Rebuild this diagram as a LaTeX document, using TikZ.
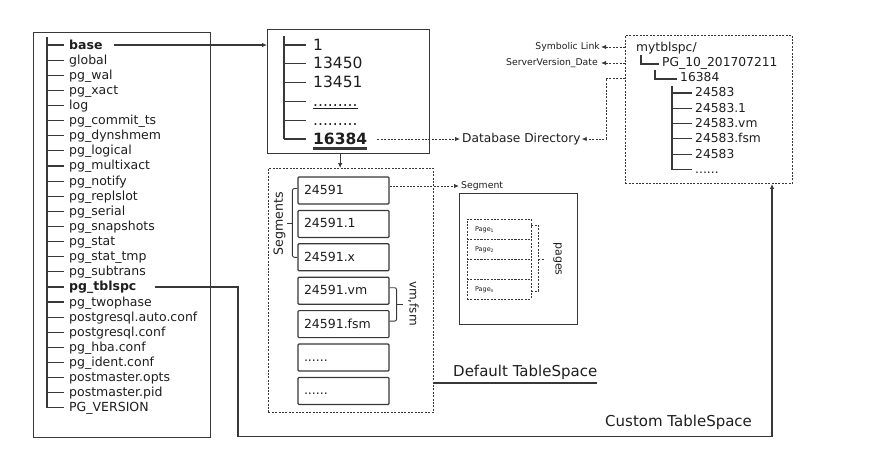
\documentclass[tikz,border=0pt]{standalone}
\usepackage{fontspec}
\setmainfont{DejaVu Sans}
\usetikzlibrary{arrows.meta,calc}
\definecolor{ink}{HTML}{1E1E1E}
\definecolor{lin}{HTML}{383838}
\newcommand{\dotsnine}{.........}
\newcommand{\dotssix}{......}
\begin{document}
\begin{tikzpicture}[x=1pt,y=-1pt,
  every node/.style={inner sep=0pt, text=ink},
  ln/.style={draw=lin, line width=1.15pt},
  dln/.style={draw=lin, line width=0.9pt, dash pattern=on 2pt off 1.4pt},
  tip/.style={-{Latex[length=5pt,width=4.5pt]}},
  lst/.style={anchor=west, font=\fontsize{12.5}{14}\selectfont, text height=9.2pt, text depth=1.2pt},
  mt/.style={anchor=west, font=\fontsize{15.5}{17}\selectfont, text height=11.5pt, text depth=1.5pt},
  rt/.style={anchor=west, font=\fontsize{12.3}{14}\selectfont, text height=9.1pt, text depth=1.2pt},
  small/.style={font=\fontsize{9.3}{11}\selectfont},
  fbox/.style={draw=lin, line width=1.2pt, rounded corners=1pt, minimum height=27pt,
    text width=79pt, inner xsep=6pt, align=left, font=\fontsize{12.5}{14}\selectfont,
    text height=9pt, text depth=1pt},
  pgbox/.style={dln, minimum height=20pt, text width=48pt, inner xsep=8pt, align=left,
    font=\fontsize{6.5}{8}\selectfont, text height=5pt, text depth=1pt},
  frame/.style={ln, anchor=north west},
  dframe/.style={dln, anchor=north west},
  big/.style={anchor=west, font=\fontsize{15}{17}\selectfont}
]
\useasboundingbox (0,0) rectangle (885,450);

% ---------- left box ----------
\node[frame, minimum width=177pt, minimum height=405pt] (leftbox) at (33,32) {};
\foreach \t [count=\i from 0] in {\textbf{base},global,pg\_wal,pg\_xact,log,pg\_commit\_ts,
  pg\_dynshmem,pg\_logical,pg\_multixact,pg\_notify,pg\_replslot,pg\_serial,pg\_snapshots,
  pg\_stat,pg\_stat\_tmp,pg\_subtrans,\textbf{pg\_tblspc},pg\_twophase,postgresql.auto.conf,
  postgresql.conf,pg\_hba.conf,pg\_ident.conf,postmaster.opts,postmaster.pid,PG\_VERSION}
{
  \pgfmathsetmacro{\yy}{45+15.12*\i}
  \node[lst] (l\i) at (69,\yy) {\t};
  \draw[ln] ($(l\i.west)+(-22,0)$) -- ($(l\i.west)+(-5,0)$);
}
\draw[ln] ($(l0.west)+(-22,-8)$) -- ($(l24.west)+(-22,0)$);

% ---------- middle box ----------
\node[frame, minimum width=162pt, minimum height=124pt] (mid) at (267,29) {};
\foreach \t [count=\i from 0] in {1,13450,13451,\underline{\dotsnine},\dotsnine,\textbf{16384}}
{
  \pgfmathsetmacro{\yy}{45+18.8*\i}
  \node[mt] (m\i) at (313,\yy) {\t};
  \draw[ln] ($(m\i.west)+(-29,0)$) -- ($(m\i.west)+(-7,0)$);
}
\draw[ln] ($(m0.west)+(-29,-9)$) -- ($(m5.west)+(-29,0)$);
\draw[draw=lin, line width=2.6pt] ($(m5.south west)+(0,2.5)$) -- ($(m5.south east)+(0,2.5)$);

\draw[ln, tip] ([xshift=11pt]l0.east) -- (mid.west |- l0.east);

% ---------- database directory ----------
\node[anchor=west, font=\fontsize{12.2}{14}\selectfont] (db) at (462,139) {Database Directory};
\draw[dln, tip] ([xshift=10pt]m5.east) -- ([xshift=-2pt]db.west);

% ---------- right dashed box ----------
\node[dframe, minimum width=167pt, minimum height=148pt] (rbox) at (625,35) {};
\node[rt] (r0) at (636,48) {mytblspc/};
\node[rt] (r1) at (662,63) {PG\_10\_201707211};
\node[rt] (r2) at (680,78) {16384};
\foreach \t [count=\i from 3] in {24583,24583.1,24583.vm,24583.fsm,24583,\dotssix}
{
  \pgfmathsetmacro{\yy}{93+15.3*(\i-3)}
  \node[rt] (r\i) at (695,\yy) {\t};
  \draw[ln] ($(r\i.west)+(-23,0)$) -- ($(r\i.west)+(-3,0)$);
}
\draw[ln] ($(r3.west)+(-23,-7)$) -- ($(r8.west)+(-23,0)$);
\draw[ln] ($(r0.south west)+(5,2)$) |- ($(r1.west)+(-3,1)$);
\draw[ln] ($(r1.south west)+(-7,2)$) |- ($(r2.west)+(-3,1)$);

\node[small, anchor=east] (sym) at (600,47) {Symbolic Link};
\node[small, anchor=east] (svd) at (598,63) {ServerVersion\_Date};
\draw[dln, tip] (rbox.west |- sym.east) -- ([xshift=1pt]sym.east);
\draw[dln, tip] (rbox.west |- svd.east) -- ([xshift=3pt]svd.east);
\coordinate (k) at (606,78);
\draw[dln, tip] (rbox.west |- k) -- (k) |- ([xshift=1pt]db.east);

% ---------- default tablespace box ----------
\node[dframe, minimum width=165pt, minimum height=244pt] (dbox) at (268,168) {};
\draw[ln, tip] (mid.south -| m5.south) -- (dbox.north -| m5.south);
\foreach \t [count=\i from 0] in {24591,24591.1,24591.x,24591.vm,24591.fsm,\dotssix,\dotssix}
{
  \pgfmathsetmacro{\yy}{190.5+33.4*\i}
  \node[fbox] (f\i) at (343.5,\yy) {\t};
}
% Segments brace
\coordinate (sb) at ($(f0.west)!0.5!(f2.west)$);
\draw[ln, line width=0.9pt, rounded corners=2pt] ($(f0.west)+(0,-2)$) -- ++(-5,0) -- ($(f2.west)+(-5,0)$) -- (f2.west);
\draw[ln, line width=0.9pt] ($(sb)+(-5,0)$) -- ++(-5,0);
\node[rotate=90, font=\fontsize{12.6}{14}\selectfont] (segs) at ($(sb)+(-18,0)$) {Segments};
% vm,fsm brace
\coordinate (vb) at ($(f3.east)!0.5!(f4.east)$);
\draw[ln, line width=0.9pt, rounded corners=2pt] ($(f3.east)+(0,-3)$) -- ++(7,0) -- ($(f4.east)+(7,-3)$) -- ($(f4.east)+(0,-3)$);
\draw[ln, line width=0.9pt] ($(vb)+(7,-3)$) -- ++(6,0);
\node[rotate=-90, font=\fontsize{12}{14}\selectfont] (vmf) at ($(vb)+(24,-4)$) {vm,fsm};

% ---------- segment box ----------
\node[small, anchor=west] (seglab) at (461,186) {Segment};
\draw[dln, tip] (f0.east |- seglab.west) -- ([xshift=-2pt]seglab.west);
\node[frame, minimum width=118pt, minimum height=131pt] (sbox) at (459,193) {};
\foreach \t [count=\i from 0] in {Page\textsubscript{1},Page\textsubscript{2},{},Page\textsubscript{n}}
{
  \pgfmathsetmacro{\yy}{229+20*\i}
  \node[pgbox] (p\i) at (499,\yy) {\t};
}
\draw[dln] ($(p0.east)+(0,-4)$) -- ++(7,0) -- ($(p3.east)+(7,2)$) -- ($(p3.east)+(0,2)$);
\coordinate (pb) at ($(p1.south east)!0.5!(p2.north east)$);
\draw[dln] ($(pb)+(7,0)$) -- ++(6,0);
\node[rotate=-90, font=\fontsize{11}{13}\selectfont] (pgs) at ($(pb)+(26,0)$) {pages};

% ---------- tablespace labels ----------
\node[big] (dts) at (453,372) {Default TableSpace};
\coordinate (u) at ($(dts.south east)+(0,3.5)$);
\draw[ln] (dbox.east |- u) -- (u);
\node[big] (cts) at (605,422) {Custom TableSpace};

\coordinate (c1) at (238,436.5);
\coordinate (c2) at (772,436.5);
\draw[ln, line width=1.4pt, tip] ([xshift=18pt]l16.east) -| (c1) -- (c2) -- (c2 |- rbox.south);
\end{tikzpicture}
\end{document}
